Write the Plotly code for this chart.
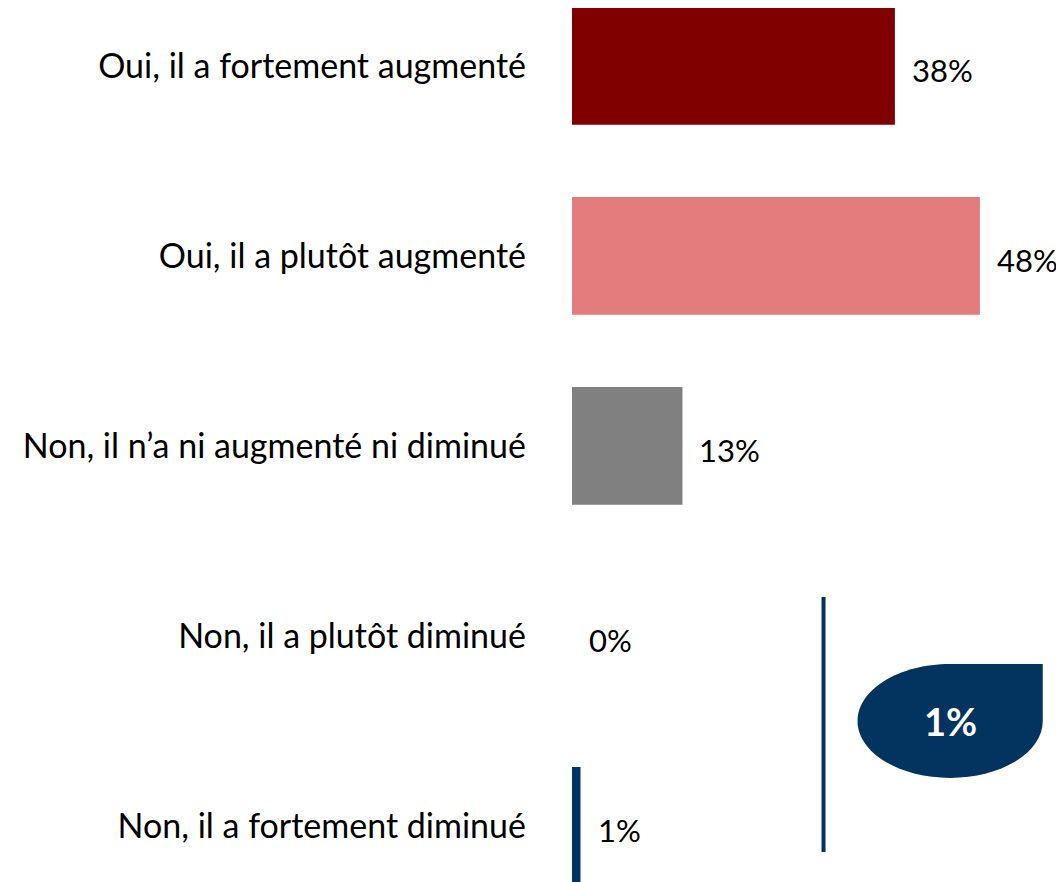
import plotly.graph_objects as go

categories = ["Oui, il a fortement augmenté", "Oui, il a plutôt augmenté",
              "Non, il n’a ni augmenté ni diminué", "Non, il a plutôt diminué",
              "Non, il a fortement diminué"]
values = [38, 48, 13, 0, 1]
labels = ["38%", "48%", "13%", "0%", "1%"]
colors = ["#800000", "#E47C7D", "#808080", "#003366", "#003366"]
total_diminue = "1%"

FONT = "Lato"
NAVY = "#03335F"

fig = go.Figure()
fig.add_trace(go.Bar(
    y=categories, x=values, orientation="h",
    marker=dict(color=colors, line=dict(width=0)),
    hoverinfo="skip",
))

# value labels to the right of each bar
for cat, v, lab in zip(categories, values, labels):
    fig.add_annotation(x=v, y=cat, text=lab, showarrow=False,
                       xanchor="left", xshift=15, yshift=-4,
                       font=dict(family=FONT, size=31, color="#000000"))

# bracket line for the "diminué" group
fig.add_shape(type="line", xref="x", yref="y",
              x0=29.6, x1=29.6, y0=2.795, y1=4.137,
              line=dict(color=NAVY, width=4))

# teardrop bubble (ellipse with a square top-right corner)
cx, cy, rx, ry = 44.5, 3.447, 10.9, 0.30
k = 0.5523
path = (f"M {cx},{cy - ry} L {cx + rx},{cy - ry} L {cx + rx},{cy} "
        f"C {cx + rx},{cy + k * ry} {cx + k * rx},{cy + ry} {cx},{cy + ry} "
        f"C {cx - k * rx},{cy + ry} {cx - rx},{cy + k * ry} {cx - rx},{cy} "
        f"C {cx - rx},{cy - k * ry} {cx - k * rx},{cy - ry} {cx},{cy - ry} Z")
fig.add_shape(type="path", xref="x", yref="y", path=path,
              fillcolor=NAVY, line=dict(width=0))
fig.add_annotation(x=cx, y=cy, text=f"<b>{total_diminue}</b>", showarrow=False,
                   font=dict(family=FONT, size=38, color="white"))

# the page adds an 8px body margin, so the figure is drawn 8px smaller
fig.update_layout(
    width=1056, height=874,
    margin=dict(l=564, r=0, t=0, b=0),
    plot_bgcolor="white", paper_bgcolor="white",
    bargap=0.38, showlegend=False,
    xaxis=dict(range=[0, 57.9], visible=False),
    yaxis=dict(range=[4.295, -0.305], showgrid=False, zeroline=False,
               showline=False, ticks="", ticklabelstandoff=45,
               tickfont=dict(family=FONT, size=34, color="#000000")),
)

fig.write_html("out.html")
